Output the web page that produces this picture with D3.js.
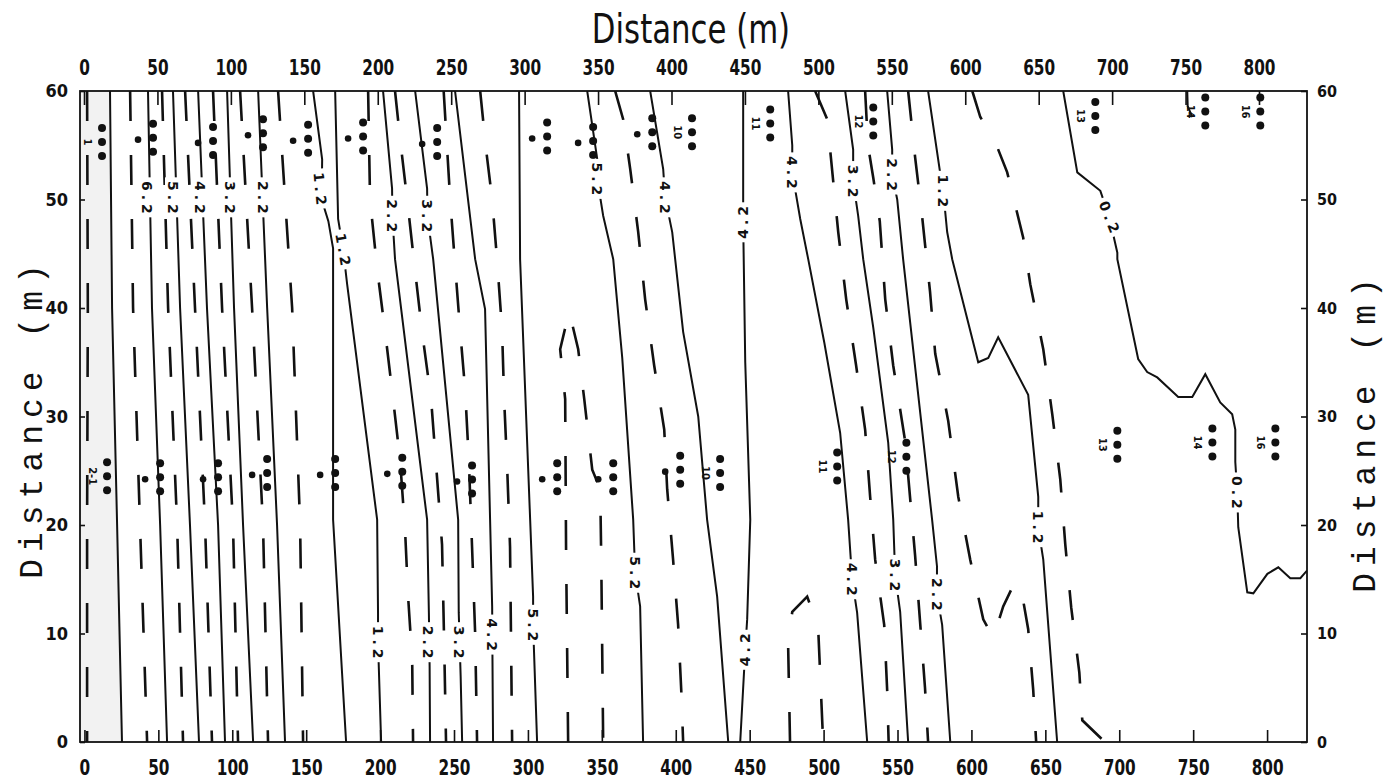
<!DOCTYPE html>
<html>
<head>
<meta charset="utf-8">
<script src="https://cdn.jsdelivr.net/npm/d3@7"></script>
<style>
  body { margin: 0; background: #fff; }
  .tick text { font-family: "DejaVu Sans Condensed", "DejaVu Sans", sans-serif; font-weight: bold; font-size: 17px; fill: #111; }
  .tick line { stroke: #111; stroke-width: 1.6; }
</style>
</head>
<body>
<div id="chart"></div>
<script>
// axis ticks
var xTickVals = d3.range(0, 801, 50);
var yTickVals = [0, 10, 20, 30, 40, 50, 60];

// contour lines, points as [distance x (m), distance y (m)], top to bottom
// left group, high values near x = 0
var d77 = [[1.8, 60], [2.3, 40], [1.8, 20], [1.8, 0]];
var s72 = [[17.3, 60], [18.7, 40], [22.1, 20], [25.4, 0]];
var d67 = [[30.9, 60], [32.9, 40], [37.6, 20], [42.4, 0]];
var s62 = [[43, 60], [45.7, 40], [51.2, 20], [55.9, 0]];
var d57 = [[52.5, 60], [56.6, 40], [62.7, 20], [66.7, 0]];
var s52 = [[59.9, 60], [64.7, 40], [71.4, 20], [77.5, 0]];
var d47 = [[68.1, 60], [74.8, 40], [81.6, 20], [86.3, 0]];
var s42 = [[76.9, 60], [82.9, 40], [90.4, 20], [95.1, 0]];
var d37 = [[87, 60], [93.1, 40], [100.5, 20], [103.9, 0]];
var s32 = [[96.5, 60], [101.2, 40], [107.3, 20], [114.1, 0]];
var d27 = [[105.3, 60], [113.4, 40], [120.8, 20], [124.2, 0]];
var s22 = [[117.5, 60], [123.6, 40], [130.3, 20], [135.7, 0]];
var d17 = [[131, 60], [140.5, 40], [145.9, 20], [147.9, 0]];
var s12a = [[154.7, 60], [160.8, 53.7], [160.5, 50], [165, 48], [168.2, 45.5], [168.2, 20.5], [177, 0]];
var s12b = [[169.6, 60], [171.6, 48.2], [175, 45.4], [177.7, 42.2], [198, 20.5], [198.6, 11.9], [198.6, 9.2], [200.7, 0]];

// middle group, rising to the 5.2 ridge
var d17b = [[191.9, 60], [193.2, 50], [198, 43.6], [203.4, 37.8], [208.8, 31.6], [213.5, 26], [216.9, 19.5], [218.9, 13.5], [221.7, 7.6], [222.3, 0]];
var s22b = [[202, 60], [208.1, 51], [208.3, 48.5], [210.1, 44.5], [231.8, 20.5], [233, 11.9], [233.5, 7], [233.8, 0]];
var d27b = [[210.1, 60], [213.5, 55.6], [218.3, 50], [223.7, 43.4], [228.4, 37.8], [234.5, 31.6], [237.9, 25.5], [241.9, 18.2], [243.3, 9.4], [244.6, 0]];
var s32b = [[223.7, 60], [231.8, 51], [232, 48.5], [235.9, 44.5], [252.8, 20.5], [253.2, 11.9], [254.5, 6], [255.5, 0]];
var d37b = [[243, 60], [247.4, 50], [250.7, 44], [254.1, 38], [257.5, 32.5], [260, 26], [262.2, 18], [264.3, 10], [265.6, 0]];
var s42b = [[250.7, 60], [264.3, 44.5], [271, 39.9], [274.4, 20.5], [275.8, 12.5], [276, 8], [276.4, 0]];
var d47b = [[267.7, 60], [271.7, 54.6], [275.8, 50], [279.1, 44.5], [282.5, 38], [283.9, 31.6], [285.9, 25.5], [287.9, 18], [289.3, 0]];
var s52a = [[294, 60], [294.7, 44.5], [301.5, 20.5], [303.5, 13.4], [303.5, 10.8], [306.2, 0]];
var d57b = [[327.2, 0], [325.8, 17.7], [325.2, 31.6], [321.8, 36.2], [327.9, 39.7], [334, 36.2], [338.1, 31.6], [343.5, 25.1], [348.9, 23.3], [349.6, 16.8], [350.9, 0]];
var s52b = [[340.1, 60], [346.9, 53.7], [346.9, 51.9], [350.9, 48.5], [357.7, 44.5], [363.8, 35.4], [371.2, 20.5], [372.5, 15.6], [375.9, 12.5], [377.9, 0]];
var d47c = [[359, 60], [364.4, 57.4], [369.2, 52.8], [374.6, 47], [379.3, 40.8], [385.4, 34.7], [392.2, 28.8], [394.2, 23.3], [398.2, 16.8], [401.6, 10.8], [403.7, 4.8], [405, 0]];
var s42c = [[382.7, 60], [391.5, 52.8], [392.8, 50.2], [397.6, 47], [399.6, 44.5], [405, 37.8], [415.2, 30], [421.2, 20.5], [428, 13.4], [435.5, 0]];
var s42d = [[445.6, 60], [445.6, 47.9], [447, 35], [450.4, 20.5], [448.3, 11.3], [447, 8.5], [443.6, 0]];
var d47d = [[477.3, 0], [476, 9], [478.8, 12], [488.9, 13.4], [496.3, 10.6], [499.7, 0]];

// right group, falling towards 0.2
var s42e = [[476, 60], [478.8, 55], [478.8, 52.5], [484.2, 48.2], [489.6, 44.5], [500.5, 36.8], [511.2, 28.5], [516.6, 20.5], [519.3, 15], [522.7, 11.9], [529.5, 0]];
var d37c = [[494.3, 60], [502.4, 57.4], [509.9, 47], [515.3, 40.8], [522, 34.7], [528.1, 28.8], [531.5, 22.6], [534.9, 16.8], [541, 10.8], [543, 4.8], [544, 0]];
var s32c = [[514.6, 60], [520, 54.6], [520, 51.7], [523.4, 48.5], [526.8, 44.5], [533.6, 38.2], [543.7, 27.6], [547.1, 20.5], [548.4, 15.4], [551.8, 12], [557.2, 0]];
var d27c = [[528.1, 60], [530, 55], [533.6, 52], [538, 48], [541.7, 40.8], [547.1, 34.7], [555.2, 27.7], [561.9, 17.2], [565.3, 11], [568.6, 5], [570.7, 0]];
var s22c = [[543, 60], [546.4, 54.6], [546.4, 52.3], [549.8, 50], [553.8, 44.5], [573.4, 20.5], [576.7, 16.2], [576.7, 13.6], [580.2, 10.8], [585.7, 0]];
var d17c = [[557.2, 60], [561.9, 53.9], [566.6, 48.5], [572, 41.5], [575.5, 35.8], [584.3, 29.6], [591.1, 22.6], [599.2, 16.8], [608, 11.3], [614.8, 9.6], [621.5, 12.5], [629.6, 14.8], [634.3, 13.6], [638.4, 10.4], [641.8, 4.8], [643.8, 0]];
var s12c = [[570.7, 60], [578.8, 52.5], [580.9, 50.8], [583.6, 47], [587, 44.5], [604.6, 35], [611.4, 35.4], [618.1, 37.3], [638.4, 32], [645.2, 22.6], [645.2, 19.8], [648.6, 16.8], [658, 0]];
var d07 = [[600.6, 60], [606, 57.6], [616.1, 55.3], [624.2, 52.5], [629.6, 49.5], [635, 46.5], [639.8, 42.2], [648.6, 36.2], [654.7, 30.2], [660.1, 24.2], [663.5, 18.2], [667.5, 12.4], [673, 6.4], [675, 2], [688, 0.3]];
var s02 = [[662.1, 60], [671.6, 52.5], [687.2, 50.8], [693.2, 48.4], [698.7, 45.1], [698.7, 44.5], [712.8, 35.3], [718.9, 34.1], [725.7, 33.6], [739.9, 31.8], [749.4, 31.8], [758.2, 33.9], [768.3, 31.3], [776.4, 30.2], [778.5, 28.8], [778.5, 25.8], [779.8, 23], [780.5, 19.8], [786.6, 13.8], [790.7, 13.7], [800.2, 15.5], [807.6, 16.1], [815.7, 15.1], [822.5, 15.1], [827, 15.8]];
var s02hook = [[746, 60], [746.3, 58.6], [749.4, 57.6]];

var solidLines = [s72, s62, s52, s42, s32, s22, s12a, s12b, s22b, s32b, s42b, s52a, s52b, s42c, s42d, s42e, s32c, s22c, s12c, s02, s02hook];
var dashedLines = [d77, d67, d57, d47, d37, d27, d17, d17b, d27b, d37b, d47b, d57b, d47c, d47d, d37c, d27c, d17c, d07];

// contour labels: [x, y, text, rotation]
var contourLabels = [
  [42.4, 50.2, "6.2", 90], [59.9, 50.2, "5.2", 90], [78.2, 50.2, "4.2", 90], [98.5, 50.2, "3.2", 90], [120.8, 50.2, "2.2", 90],
  [159.4, 51, "1.2", 85], [175, 45.4, "1.2", 80], [208.1, 48.5, "2.2", 90], [231.8, 48.5, "3.2", 90],
  [346.9, 51.9, "5.2", 90], [392.8, 50.2, "4.2", 90], [445.6, 47.9, "4.2", -90], [478.8, 52.5, "4.2", 90],
  [520, 51.7, "3.2", 90], [546.4, 52.3, "2.2", 90], [580.9, 50.8, "1.2", 90], [693.2, 48.4, "0.2", 68],
  [198.6, 9.2, "1.2", 90], [232.5, 9.2, "2.2", 90], [253.2, 9.2, "3.2", 90], [275.8, 9.9, "4.2", 90],
  [303.5, 10.8, "5.2", 90], [372.5, 15.6, "5.2", 90], [447, 8.5, "4.2", -90], [519.3, 15, "4.2", 90],
  [548.4, 15.4, "3.2", 90], [576.7, 13.6, "2.2", 90], [645.2, 19.8, "1.2", 90], [779.8, 23, "0.2", 90]
];

// wells (triple dots): [x, y, tag]; empty tag means a single dot beside it
var wellsTop = [
  [11.9, 55.3, "1"], [46.4, 55.7, ""], [87, 55.4, ""], [120.8, 56.1, ""], [151.3, 55.6, ""], [188.5, 55.8, ""],
  [238.6, 55.3, ""], [313, 55.8, ""], [344.1, 55.4, ""], [384.1, 56.2, ""], [411, 56.2, "10"], [463.9, 57, "11"],
  [533.6, 57.2, "12"], [683.8, 57.7, "13"], [758.2, 58.1, "14"], [795.4, 58.1, "16"]
];
var wellsBottom = [
  [15.3, 24.5, "2-1"], [51.2, 24.4, ""], [90.4, 24.4, ""], [123.6, 24.8, ""], [169.6, 24.8, ""], [215, 24.9, ""],
  [262.2, 24.2, ""], [319.8, 24.4, ""], [357.7, 24.4, ""], [403, 25.1, ""], [430, 24.8, "10"], [509.2, 25.4, "11"],
  [556, 26.3, "12"], [698.7, 27.4, "13"], [763, 27.6, "14"], [805.6, 27.6, "16"]
];

var W = 1387, H = 783;
var svg = d3.select("#chart").append("svg")
  .attr("width", W)
  .attr("height", H);

var x = d3.scaleLinear().domain([-3, 827]).range([80, 1307]);
var xTop = d3.scaleLinear().domain([0, 800]).range([84, 1259]);
var y = d3.scaleLinear().domain([0, 60]).range([742, 91]);

svg.append("clipPath").attr("id", "plotclip")
  .append("rect")
  .attr("x", x(-3)).attr("y", y(60))
  .attr("width", x(827) - x(-3)).attr("height", y(0) - y(60));

var plot = svg.append("g").attr("clip-path", "url(#plotclip)");

var line = d3.line()
  .x(function (d) { return x(d[0]); })
  .y(function (d) { return y(d[1]); });

// shaded strip left of the first solid contour
plot.append("path")
  .attr("d", line([[-3, 60]].concat(s72, [[-3, 0]])) + "Z")
  .attr("fill", "#f2f2f2");

plot.selectAll("path.solid")
  .data(solidLines)
  .enter().append("path")
  .attr("class", "solid")
  .attr("d", line)
  .attr("fill", "none")
  .attr("stroke", "#111")
  .attr("stroke-width", 2);

plot.selectAll("path.dashed")
  .data(dashedLines)
  .enter().append("path")
  .attr("class", "dashed")
  .attr("d", line)
  .attr("fill", "none")
  .attr("stroke", "#111")
  .attr("stroke-width", 2.6)
  .attr("stroke-dasharray", "30,34");

// wells
function drawWells(list) {
  list.forEach(function (w) {
    var cx = x(w[0]), cy = y(w[1]);
    [-14, 0, 14].forEach(function (o) {
      plot.append("circle").attr("cx", cx).attr("cy", cy + o).attr("r", 4).attr("fill", "#111");
    });
    if (w[2] === "") {
      plot.append("circle").attr("cx", cx - 15).attr("cy", cy + 2).attr("r", 3.3).attr("fill", "#111");
    } else {
      plot.append("text")
        .text(w[2])
        .attr("transform", "translate(" + (cx - 15) + "," + cy + ") rotate(90)")
        .attr("text-anchor", "middle")
        .attr("dy", "0.35em")
        .style("font-family", "DejaVu Sans")
        .style("font-weight", "bold")
        .style("font-size", "10px")
        .style("fill", "#111");
    }
  });
}
drawWells(wellsTop);
drawWells(wellsBottom);

// contour value labels over a white patch that breaks the line
contourLabels.forEach(function (l) {
  var g = plot.append("g")
    .attr("transform", "translate(" + x(l[0]) + "," + y(l[1]) + ") rotate(" + l[3] + ")");
  g.append("rect")
    .attr("x", -20).attr("y", -8)
    .attr("width", 40).attr("height", 16)
    .attr("fill", "#fff");
  g.append("text")
    .text(l[2])
    .attr("text-anchor", "middle")
    .attr("dy", "0.36em")
    .attr("x", 2)
    .style("font-family", "DejaVu Sans")
    .style("font-weight", "bold")
    .style("font-size", "14px")
    .style("letter-spacing", "4px")
    .style("fill", "#111");
});

// axes
var gBottom = svg.append("g")
  .attr("transform", "translate(0," + y(0) + ")")
  .call(d3.axisBottom(x).tickValues(xTickVals).tickSize(-12).tickPadding(14));
var gTop = svg.append("g")
  .attr("transform", "translate(0," + y(60) + ")")
  .call(d3.axisTop(xTop).tickValues(xTickVals).tickSize(-14).tickPadding(13));
var gLeft = svg.append("g")
  .attr("transform", "translate(" + x(-3) + ",0)")
  .call(d3.axisLeft(y).tickValues(yTickVals).tickSize(-5).tickPadding(12));
var gRight = svg.append("g")
  .attr("transform", "translate(" + x(827) + ",0)")
  .call(d3.axisRight(y).tickValues(yTickVals).tickSize(-6).tickPadding(10));

[gBottom, gTop].forEach(function (g) {
  g.select(".domain").remove();
  // tall, narrow plotter digits
  g.selectAll(".tick text").attr("transform", "scale(1,1.25)");
});
[gLeft, gRight].forEach(function (g) {
  g.select(".domain").remove();
  g.selectAll(".tick line").attr("stroke-width", 1);
});
gLeft.selectAll(".tick text").style("font-size", "18px");
gRight.selectAll(".tick text").style("font-size", "16px");

// frame
svg.append("rect")
  .attr("x", x(-3)).attr("y", y(60))
  .attr("width", x(827) - x(-3)).attr("height", y(0) - y(60))
  .attr("fill", "none")
  .attr("stroke", "#111")
  .attr("stroke-width", 1.8);

// titles
svg.append("text")
  .text("Distance (m)")
  .attr("transform", "translate(691,43) scale(0.95,1.12)")
  .attr("text-anchor", "middle")
  .style("font-family", "'DejaVu Sans Condensed', sans-serif")
  .style("font-size", "36px")
  .style("fill", "#111");

svg.append("text")
  .text("Distance (m)")
  .attr("transform", "translate(42,418) rotate(-90)")
  .attr("text-anchor", "middle")
  .style("font-family", "'Liberation Mono', monospace")
  .style("font-size", "33px")
  .style("letter-spacing", "7px")
  .style("fill", "#111");

svg.append("text")
  .text("Distance (m)")
  .attr("transform", "translate(1375,432) rotate(-90)")
  .attr("text-anchor", "middle")
  .style("font-family", "'Liberation Mono', monospace")
  .style("font-size", "33px")
  .style("letter-spacing", "7px")
  .style("fill", "#111");
</script>
</body>
</html>
